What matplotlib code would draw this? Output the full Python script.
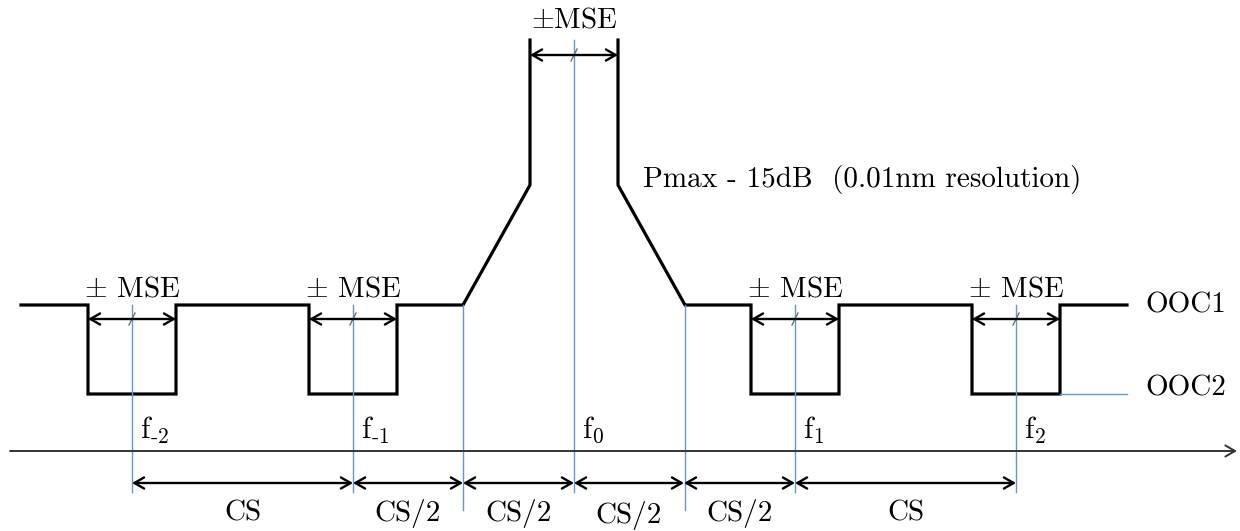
import matplotlib.pyplot as plt

# channel layout, in picture pixels (x to the right, y downwards)
centers = [132, 353, 574, 795, 1016]
center_labels = [r"$\mathrm{f}_{\text{-}2}$", r"$\mathrm{f}_{\text{-}1}$", r"$\mathrm{f}_{0}$",
                 r"$\mathrm{f}_{1}$", r"$\mathrm{f}_{2}$"]
notch_half = 44
peak_top_half = 44
peak_base_half = 111
ooc1_y = 305
ooc2_y = 394
peak_top_y = 40
shoulder_y = 185
axis_y = 451

# spacing dimension line
dim_marks = [132, 353, 463, 574, 684, 795, 1016]
dim_labels = ["CS", "CS/2", "CS/2", "CS/2", "CS/2", "CS"]

BLACK = "#000000"
BLUE = "#5b9bd5"
FONT = ["cmr10", "DejaVu Serif"]
FS = 21

plt.rcParams["mathtext.fontset"] = "cm"

fig = plt.figure(figsize=(12.4, 5.31), dpi=100)
ax = fig.add_axes([0, 0, 1, 1])
ax.set_xlim(0, 1240)
ax.set_ylim(531, 0)
ax.axis("off")

f0 = centers[2]
side = [c for c in centers if c != f0]


def notch_path(c):
    l, r = c - notch_half, c + notch_half
    return [(l, ooc1_y), (l, ooc2_y), (r, ooc2_y), (r, ooc1_y)]


# left half of the mask
pts = [(21, ooc1_y)]
for c in side[:2]:
    pts += notch_path(c)
pts += [(f0 - peak_base_half, ooc1_y), (f0 - peak_top_half, shoulder_y), (f0 - peak_top_half, peak_top_y)]
xs, ys = zip(*pts)
ax.plot(xs, ys, color=BLACK, lw=2.3, solid_joinstyle="miter")

# right half of the mask
pts = [(f0 + peak_top_half, peak_top_y), (f0 + peak_top_half, shoulder_y), (f0 + peak_base_half, ooc1_y)]
for c in side[2:]:
    pts += notch_path(c)
pts += [(1127, ooc1_y)]
xs, ys = zip(*pts)
ax.plot(xs, ys, color=BLACK, lw=2.3, solid_joinstyle="miter")

# OOC2 level marker
ax.plot([side[-1] + notch_half, 1127], [ooc2_y, ooc2_y], color=BLUE, lw=1)
ax.text(1145, ooc1_y, "OOC1", family=FONT, fontsize=FS, va="center", ha="left")
ax.text(1145, ooc2_y - 6, "OOC2", family=FONT, fontsize=FS, va="center", ha="left")

# blue guide lines
for c in side:
    ax.plot([c, c], [ooc1_y, 492], color=BLUE, lw=1)
ax.plot([f0, f0], [peak_top_y, 492], color=BLUE, lw=1)
for b in (f0 - peak_base_half, f0 + peak_base_half):
    ax.plot([b, b], [ooc1_y, 510], color=BLUE, lw=1)


def mse_arrow(c, half, y):
    ax.annotate("", xy=(c + half, y), xytext=(c - half, y),
                arrowprops=dict(arrowstyle="<->,head_length=0.7,head_width=0.4",
                                color=BLACK, lw=1.7, shrinkA=0, shrinkB=0))
    ax.plot([c - 3, c + 3], [y + 6, y - 6], color="#707070", lw=1)


for c in side:
    mse_arrow(c, notch_half, ooc1_y + 14)
    ax.text(c, 289, r"$\pm$ MSE", family=FONT, fontsize=FS, ha="center", va="center")
mse_arrow(f0, peak_top_half, 55)
ax.text(f0, 20, r"$\pm$MSE", family=FONT, fontsize=FS, ha="center", va="center")

ax.text(643, 180, "Pmax - 15dB  (0.01nm resolution)", family=FONT, fontsize=FS,
        ha="left", va="center")

# frequency axis
ax.annotate("", xy=(1237, axis_y), xytext=(10, axis_y),
            arrowprops=dict(arrowstyle="->,head_length=0.7,head_width=0.4",
                            color="#333333", lw=1.4, shrinkA=0, shrinkB=0))
for c, lab in zip(centers, center_labels):
    ax.text(c + 8, 430, lab, fontsize=FS + 1, ha="left", va="center")

# spacing dimensions
for i, lab in enumerate(dim_labels):
    a, b = dim_marks[i], dim_marks[i + 1]
    ax.annotate("", xy=(b, 483), xytext=(a, 483),
                arrowprops=dict(arrowstyle="<->,head_length=0.7,head_width=0.4",
                                color=BLACK, lw=1.7, shrinkA=0, shrinkB=0))
    ax.text((a + b) / 2, 513 if i != 3 else 516, lab, family=FONT, fontsize=FS,
            ha="center", va="center")

fig.savefig("out.png", dpi=100)
